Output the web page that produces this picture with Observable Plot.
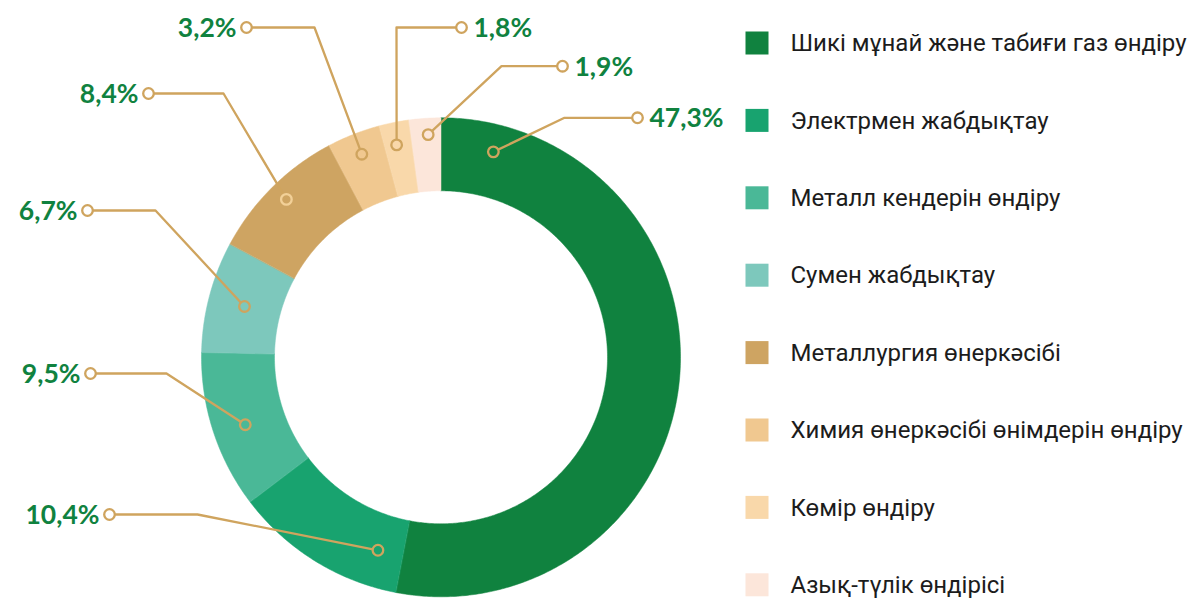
<!DOCTYPE html>
<html><head><meta charset="utf-8">
<script src="https://cdn.jsdelivr.net/npm/d3@7"></script>
<script src="https://cdn.jsdelivr.net/npm/@observablehq/plot@0.6"></script>
<style>html,body{margin:0;padding:0;background:#fff}svg{display:block}</style>
</head><body><div id="chart"></div>
<script>
// ---- data ----
const categories = [
  "Шикі мұнай және табиғи газ өндіру",
  "Электрмен жабдықтау",
  "Металл кендерін өндіру",
  "Сумен жабдықтау",
  "Металлургия өнеркәсібі",
  "Химия өнеркәсібі өнімдерін өндіру",
  "Көмір өндіру",
  "Азық-түлік өндірісі"
];
const values = [47.3, 10.4, 9.5, 6.7, 8.4, 3.2, 1.8, 1.9];
const valueLabels = ["47,3%", "10,4%", "9,5%", "6,7%", "8,4%", "3,2%", "1,8%", "1,9%"];
const colors = ["#10823f", "#18a36f", "#4ab897", "#7dc8bc", "#cea462", "#f0c890", "#f9d8aa", "#fce6da"];

// label leader layout (chart units)
const anchorAngle  = [14.3, 198.1, 251, 284.5, 315.6, 338.7, 348.2, 356.7];
const anchorRadius = [212, 203, 207, 203, 221, 218, 217, 223];
const elbowX = [564, 197, 166, 155, 223, 314, 396, 501];
const elbowY = [117.3, 514, 373, 210, 93, 27, 27, 65.7];
const endX   = [637, 109, 90, 87, 148, 246, 461, 562];
const endY   = [117.3, 514, 373, 210, 93, 27, 27, 65.7];
const labelSide = ["right", "left", "left", "left", "left", "left", "right", "right"];

// ---- geometry ----
const CX = 440.5, CY = 356.8, R_OUT = 239.5, R_IN = 166.5;
const W = 1189, H = 599;
const polar = (a, r) => ({x: CX + r * Math.sin(a), y: CY - r * Math.cos(a)});

const arcs = d3.pie().sort(null).value(d => d)(values);
const slicePoints = [];
arcs.forEach((arc, i) => {
  const n = Math.max(8, Math.ceil((arc.endAngle - arc.startAngle) / 0.01));
  for (let k = 0; k <= n; k++) {
    const a = arc.startAngle + (arc.endAngle - arc.startAngle) * k / n;
    slicePoints.push({name: categories[i], ...polar(a, R_OUT)});
  }
  for (let k = n; k >= 0; k--) {
    const a = arc.startAngle + (arc.endAngle - arc.startAngle) * k / n;
    slicePoints.push({name: categories[i], ...polar(a, R_IN)});
  }
});

const labelsData = categories.map((name, i) => {
  const p = polar(anchorAngle[i] * Math.PI / 180, anchorRadius[i]);
  return {name, label: valueLabels[i], ax: p.x, ay: p.y, ex: elbowX[i], ey: elbowY[i],
          tx: endX[i], ty: endY[i], side: labelSide[i], i};
});
const leaderPoints = labelsData.flatMap(d => [
  {id: d.i, x: d.ax, y: d.ay}, {id: d.i, x: d.ex, y: d.ey}, {id: d.i, x: d.tx, y: d.ty}
]);

const LEG_Y0 = 43, LEG_DY = 77.4, LEG_X = 745.5, LEG_SQ = 23, LEG_TX = 790;
const legendRows = categories.map((name, i) => ({name, y: LEG_Y0 + i * LEG_DY}));

const tan = "#cfa45e";
const labelFont = {fontSize: 26.5, fontWeight: "bold",
  fontFamily: "Lato, 'Open Sans', sans-serif", fill: "#10823f"};

const chart = Plot.plot({
  width: W, height: H,
  margin: 0,
  x: {domain: [0, W], range: [0, W], axis: null},
  y: {domain: [0, H], range: [0, H], axis: null},
  color: {domain: categories, range: colors},
  style: {background: "white"},
  marks: [
    Plot.line(slicePoints, {x: "x", y: "y", z: "name", fill: "name", stroke: "name",
      strokeWidth: 0.5, curve: "linear-closed"}),
    Plot.line(leaderPoints, {x: "x", y: "y", z: "id", stroke: tan, strokeWidth: 2.3}),
    Plot.dot(labelsData, {x: "ax", y: "ay", r: 5.3, fill: "name",
      stroke: d => d.i === 4 ? "#f2d098" : tan, strokeWidth: 2.3}),
    Plot.dot(labelsData, {x: "tx", y: "ty", r: 5.3, fill: "white", stroke: tan, strokeWidth: 2.3}),
    Plot.text(labelsData.filter(d => d.side === "right"), {x: "tx", y: "ty", text: "label",
      textAnchor: "start", dx: 12, dy: 1, ...labelFont}),
    Plot.text(labelsData.filter(d => d.side === "left"), {x: "tx", y: "ty", text: "label",
      textAnchor: "end", dx: -10, dy: 1, ...labelFont}),
    Plot.rect(legendRows, {x1: LEG_X, x2: LEG_X + LEG_SQ,
      y1: d => d.y - LEG_SQ / 2, y2: d => d.y + LEG_SQ / 2, fill: "name"}),
    Plot.text(legendRows, {x: LEG_TX, y: "y", text: "name", textAnchor: "start",
      fontSize: 24, fontFamily: "Roboto, sans-serif", fill: "#1c1c1c"})
  ]
});
document.getElementById("chart").appendChild(chart);
</script>
</body></html>
